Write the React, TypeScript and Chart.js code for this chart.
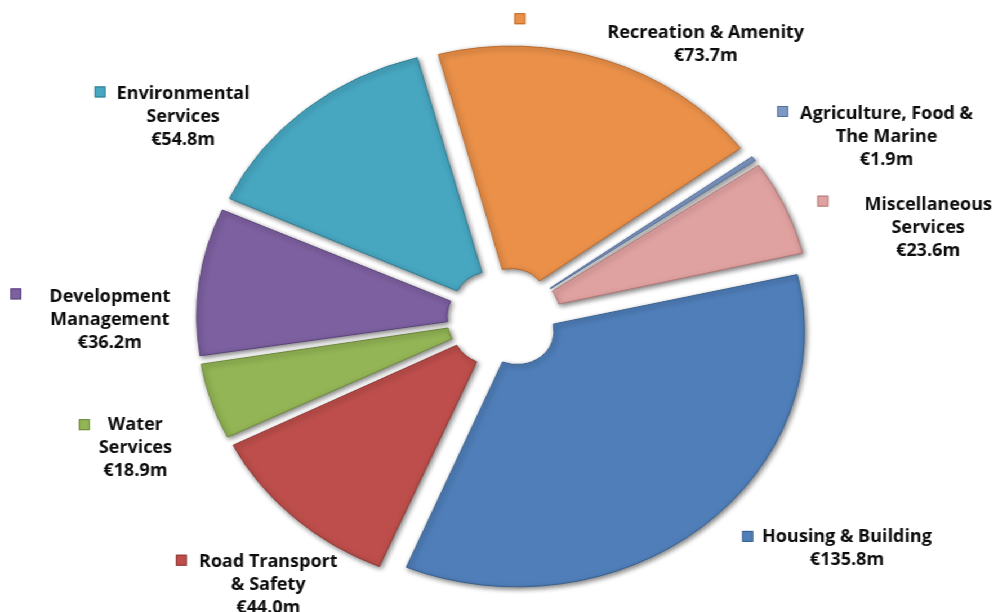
import React, { useEffect, useRef } from "react";
import { Chart, registerables } from "chart.js";

Chart.register(...registerables);

// ---- data ----
const categories = [
  "Housing & Building",
  "Road Transport & Safety",
  "Water Services",
  "Development Management",
  "Environmental Services",
  "Recreation & Amenity",
  "Agriculture, Food & The Marine",
  "Miscellaneous Services",
];
const values = [135.8, 44.0, 18.9, 36.2, 54.8, 73.7, 1.9, 23.6];
const labelLines = [
  ["Housing & Building"],
  ["Road Transport", "& Safety"],
  ["Water", "Services"],
  ["Development", "Management"],
  ["Environmental", "Services"],
  ["Recreation & Amenity"],
  ["Agriculture, Food &", "The Marine"],
  ["Miscellaneous", "Services"],
];

// ---- styles ----
const fillColors = ["#4F7EB9", "#BD4E4B", "#93B555", "#7D60A0", "#47A6C0", "#EA9049", "#7E98C4", "#E0A2A1"];
const edgeColors = ["#38608F", "#8E3835", "#6E8A3B", "#5A437C", "#2F7D92", "#BC6A2C", "#58719C", "#B07776"];
const labelShift = [-12.8, -5.0, -3.8, -8.0, -14.6, 13.9, 7.6, 10.5]; // degrees
const labelDist = [1.514, 1.347, 1.397, 1.389, 1.384, 1.298, 1.528, 1.536];
const markerGap = [9, 12, 9, 28, 11, 82, 12, 36];
const markerDy = [0, -2, 0, -3, -2, -14, -2, -4];

const CANVAS_W = 886;
const CANVAS_H = 612;
const STRETCH = 998 / CANVAS_W;
const EXPLODE = 21;
const OUTER_R = 252;
const INNER_R = 30;

const total = values.reduce((a, b) => a + b, 0);

const shadowPlugin = {
  id: "sliceShadow",
  beforeDatasetsDraw(chart: any) {
    const ctx = chart.ctx;
    ctx.save();
    ctx.shadowColor = "rgba(0,0,0,0.5)";
    ctx.shadowBlur = 5;
    ctx.shadowOffsetX = 1.5;
    ctx.shadowOffsetY = 2;
  },
  afterDatasetsDraw(chart: any) {
    chart.ctx.restore();
  },
};

const labelPlugin = {
  id: "outerLabels",
  afterDraw(chart: any) {
    const ctx = chart.ctx;
    const meta = chart.getDatasetMeta(0);
    ctx.save();
    ctx.scale(1 / STRETCH, 1);
    ctx.font = "bold 18px 'Open Sans', sans-serif";
    ctx.textAlign = "center";
    ctx.textBaseline = "middle";
    const lh = 23;
    meta.data.forEach((arc: any, i: number) => {
      const p = arc.getProps(["x", "y", "startAngle", "endAngle", "outerRadius"], true);
      const mid = (p.startAngle + p.endAngle) / 2 + (labelShift[i] * Math.PI) / 180;
      const tx = (p.x + Math.cos(mid) * p.outerRadius * labelDist[i]) * STRETCH;
      const ty = p.y + Math.sin(mid) * p.outerRadius * labelDist[i];
      const lines = [...labelLines[i], "€" + values[i].toFixed(1) + "m"];
      const maxW = Math.max(...lines.map((l) => ctx.measureText(l).width));
      const y0 = ty - ((lines.length - 1) * lh) / 2;
      ctx.fillStyle = "#0d0d0d";
      lines.forEach((l, k) => ctx.fillText(l, tx, y0 + k * lh));
      const size = 11;
      const mx = tx - maxW / 2 - markerGap[i] - size;
      const my = y0 + markerDy[i] - size / 2;
      ctx.fillStyle = fillColors[i];
      ctx.fillRect(mx, my, size, size);
      ctx.strokeStyle = edgeColors[i];
      ctx.lineWidth = 1;
      ctx.strokeRect(mx + 0.5, my + 0.5, size - 1, size - 1);
    });
    ctx.restore();
  },
};

export default function App() {
  const canvasRef = useRef<HTMLCanvasElement | null>(null);

  useEffect(() => {
    document.body.style.margin = "0";
    document.body.style.overflow = "hidden";
    const canvas = canvasRef.current;
    if (!canvas) return;
    const chart = new Chart(canvas, {
      type: "doughnut",
      data: {
        labels: categories,
        datasets: [
          {
            data: values,
            backgroundColor: fillColors,
            borderColor: edgeColors,
            borderWidth: 1,
            offset: values.map((v) => {
              const circ = (2 * Math.PI * v) / total;
              return (4 * EXPLODE) / (2 - Math.sin(Math.min(Math.PI, circ)));
            }),
          },
        ],
      },
      options: {
        responsive: false,
        animation: false,
        rotation: 77,
        radius: OUTER_R,
        cutout: INNER_R,
        layout: { padding: { left: 9, top: 24, right: 0, bottom: 0 } },
        plugins: {
          legend: { display: false },
          tooltip: { enabled: false },
        },
      },
      plugins: [shadowPlugin, labelPlugin],
    });
    return () => chart.destroy();
  }, []);

  return (
    <div
      style={{
        position: "absolute",
        left: 0,
        top: 0,
        width: CANVAS_W,
        height: CANVAS_H,
        transform: `scaleX(${STRETCH})`,
        transformOrigin: "0 0",
        background: "#ffffff",
      }}
    >
      <canvas ref={canvasRef} width={CANVAS_W} height={CANVAS_H} style={{ display: "block" }} />
    </div>
  );
}
